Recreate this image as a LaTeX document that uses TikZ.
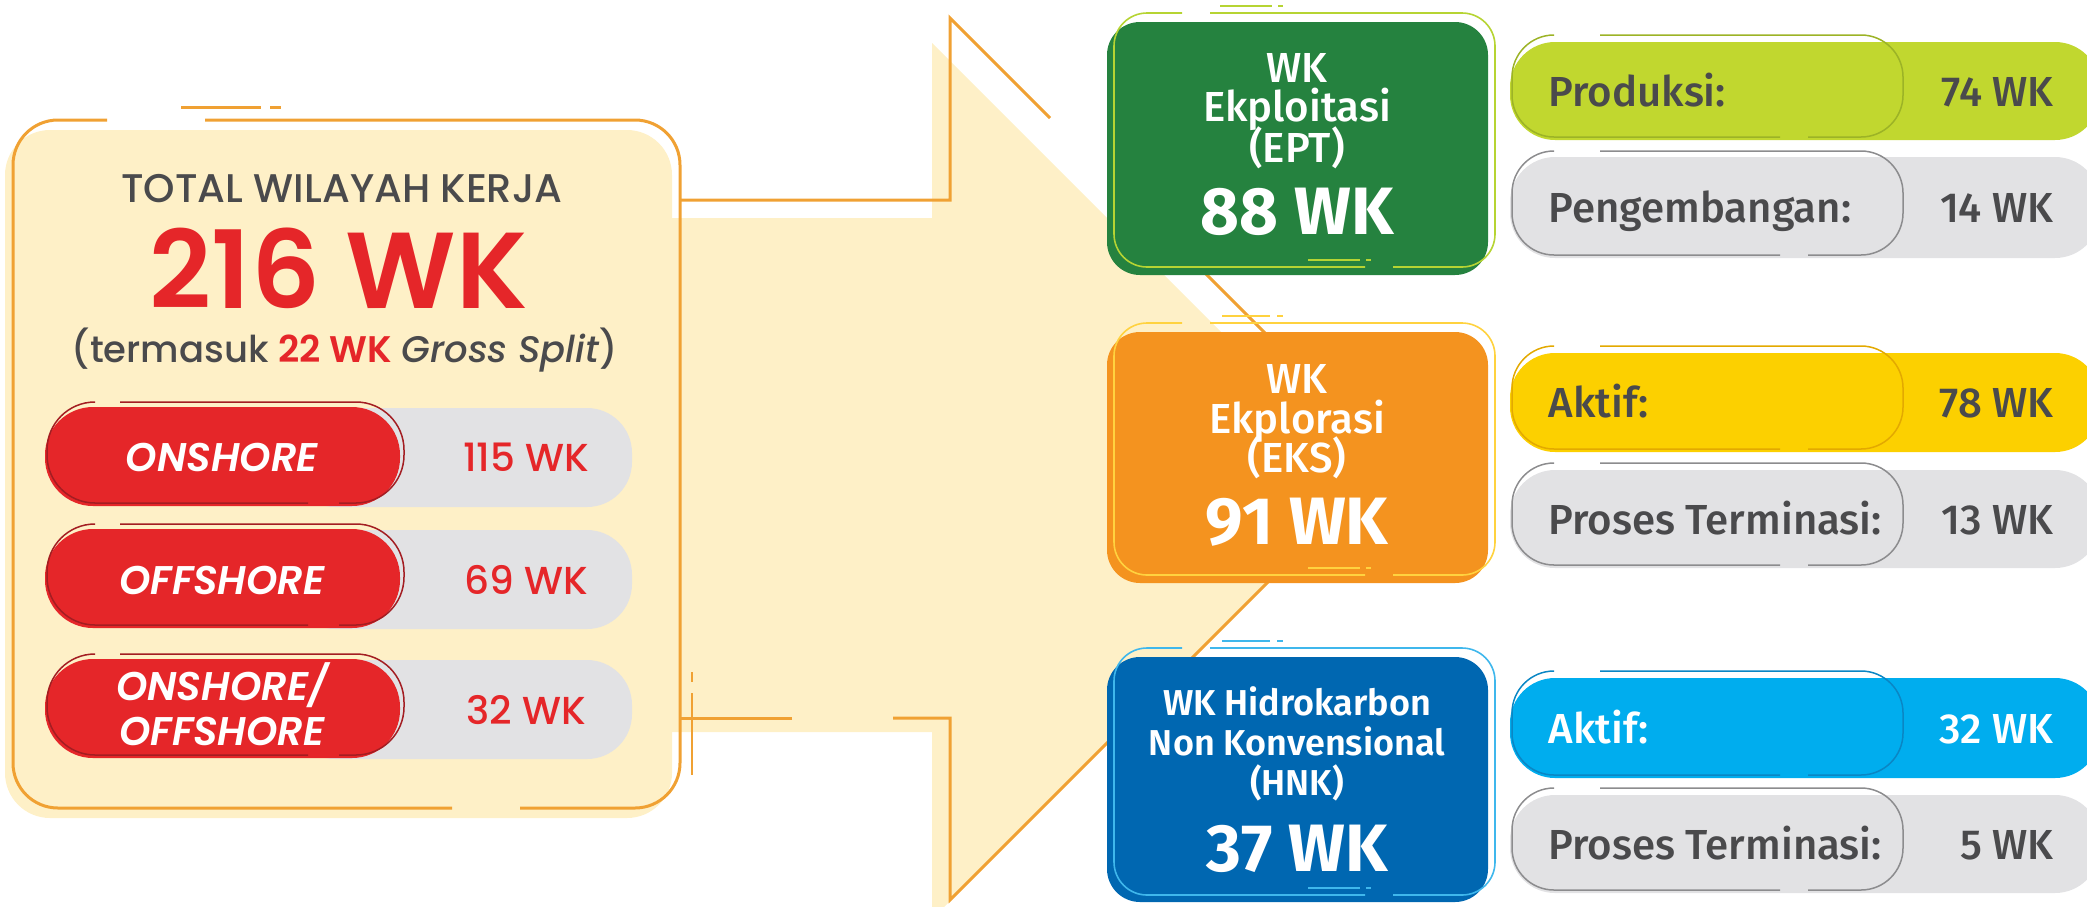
\documentclass[tikz,border=0pt]{standalone}
\usepackage{fontspec}
\setmainfont{Fira Sans Medium}[BoldFont={Fira Sans Bold}]
\newfontfamily\firasb{Fira Sans SemiBold}
\newfontfamily\pop{Poppins Medium}[BoldFont={Poppins SemiBold},ItalicFont={Poppins Medium Italic},BoldItalicFont={Poppins SemiBold Italic}]
\definecolor{cream}{HTML}{FEF0C7}
\definecolor{aorange}{HTML}{F0A133}
\definecolor{wkred}{HTML}{E52629}
\definecolor{dred}{HTML}{A31D22}
\definecolor{pgray}{HTML}{E2E2E4}
\definecolor{tgray}{HTML}{4A4A4C}
\definecolor{ggreen}{HTML}{25823F}
\definecolor{lgreen}{HTML}{B6D433}
\definecolor{borange}{HTML}{F4931F}
\definecolor{lyellow}{HTML}{FFD23F}
\definecolor{bblue}{HTML}{0067B1}
\definecolor{lblue}{HTML}{3FB7EC}
\definecolor{lime}{HTML}{C1D72F}
\definecolor{limed}{HTML}{9CB326}
\definecolor{yel}{HTML}{FCD000}
\definecolor{yeld}{HTML}{E3A900}
\definecolor{sky}{HTML}{00ADEE}
\definecolor{skyd}{HTML}{0A86C4}
\definecolor{grayd}{HTML}{8C8C8E}
% gapped rounded outline: style, x1,y1,x2,y2, top gap a,b, bottom gap a,b
\newcommand{\gapbox}[9]{%
  \draw[#1] (#7,#3) -- (#4,#3) -- (#4,#5) -- (#9,#5);
  \draw[#1] (#8,#5) -- (#2,#5) -- (#2,#3) -- (#6,#3);}
\tikzset{
  aline/.style={draw=aorange, line width=3pt},
  thinl/.style={line width=1.6pt},
  cbox/.style={rectangle, rounded corners=33pt, minimum width=381pt, inner sep=0pt},
  hdr/.style={anchor=base, text=tgray, inner sep=0pt, text height=28pt, text depth=0pt, font=\pop\fontsize{40}{44}\selectfont},
  bigred/.style={anchor=base, text=wkred, inner sep=0pt, text height=76pt, text depth=0pt, font=\pop\bfseries\fontsize{108}{114}\selectfont},
  subhdr/.style={anchor=base, text=tgray, inner sep=0pt, text height=28pt, text depth=8pt, font=\pop\fontsize{37}{42}\selectfont},
  rtxt/.style={anchor=base, text=white, font=\pop\bfseries\itshape\fontsize{40}{44}\selectfont},
  vtxt/.style={anchor=base, text=wkred, font=\pop\fontsize{39}{44}\selectfont},
  btxt/.style={anchor=base, text=white, font=\fontsize{42}{46}\selectfont},
  bbtxt/.style={anchor=base, text=white, font=\firasb\fontsize{36}{40}\selectfont},
  bnum/.style={anchor=base, text=white, font=\bfseries\fontsize{67}{72}\selectfont},
  plabel/.style={anchor=base west, text=tgray, font=\fontsize{42}{46}\selectfont},
  pval/.style={anchor=base east, text=tgray, font=\fontsize{42}{46}\selectfont},
}
\begin{document}
\begin{tikzpicture}[x=1pt,y=-1pt]
\useasboundingbox (0,0) rectangle (2087,906);
\clip (0,0) rectangle (2087,906);

% ---------- big arrow fill and left box fill
\fill[cream] (672,218) -- (932,218) -- (932,43) -- (1370,481) -- (932,919) -- (932,732) -- (672,732) -- cycle;
\fill[cream, rounded corners=45] (5,130) rectangle (672,818);

% ---------- arrow outline
\coordinate (sh1) at (680,200);
\coordinate (ah1) at (950,200);
\coordinate (ah2) at (950,18);
\coordinate (ah3) at (1050,118);
\coordinate (ah4) at (1205,273);
\coordinate (tip) at (1391,459);
\coordinate (ah5) at (950,900);
\coordinate (ah6) at (950,718);
\coordinate (sh2) at (893,718);
\coordinate (sh3) at (792,718);
\coordinate (sh4) at (680,718);
\draw[aline] (sh1) -- (ah1) -- (ah2) -- (ah3);
\draw[aline] (ah4) -- (tip) -- (ah5) -- (ah6) -- (sh2);
\draw[aline] (sh3) -- (sh4);
\draw[aline, line width=2pt] (692,672) -- (692,682) (692,693) -- (692,775);

% ---------- left box outline
\gapbox{aline, rounded corners=45}{13}{120}{680}{808}{107}{205}{452}{520}
\draw[aline] (181,107) -- (261,107) (270,107) -- (281,107);

% ---------- left box texts
\node[hdr] (title) at (342,202) {TOTAL WILAYAH KERJA};
\node[bigred] (total) at (339,308) {216 WK};
\node[subhdr] (gross) at (345,362) {(termasuk {\bfseries\color{wkred}22 WK} \textit{Gross Split})};

% ---------- rows
\foreach \t/\b in {407/506, 529/628, 659/758}{
  \fill[pgray, rounded corners=45] (290,\t+1) rectangle (632,\b+1);
  \fill[wkred, rounded corners=48] (45,\t) rectangle (400,\b);
  \gapbox{draw=dred, line width=1.5pt, rounded corners=48}{47}{\t-5}{404}{\b-3}{94}{120}{308}{339}
}
\node[rtxt] (on) at (222,471) {ONSHORE};
\node[vtxt] (onv) at (526,471) {115 WK};
\node[rtxt] (off) at (222,594) {OFFSHORE};
\node[vtxt] (offv) at (526,594) {69 WK};
\node[rtxt] (both1) at (222,700) {ONSHORE/};
\node[rtxt] (both2) at (222,745) {OFFSHORE};
\node[vtxt] (bothv) at (526,724) {32 WK};

% ---------- colored boxes
\node[cbox, fill=ggreen, minimum height=253pt] (ept) at (1297.5,148.5) {};
\gapbox{thinl, draw=lgreen, rounded corners=33}{1114}{13}{1495}{267}{1182}{1210}{1365}{1393}
\draw[thinl, draw=lgreen] (1220,6) -- (1272,6) (1278,6) -- (1283,6) (1308,260) -- (1360,260) (1366,260) -- (1371,260);
\node[btxt] (ept1) at (1297,82) {WK};
\node[btxt] (ept2) at (1297,121) {Ekploitasi};
\node[btxt] (ept3) at (1297,162) {(EPT)};
\node[bnum] (ept4) at (1297,234) {88 WK};

\node[cbox, fill=borange, minimum height=251pt] (eks) at (1297.5,457.5) {};
\gapbox{thinl, draw=lyellow, rounded corners=33}{1114}{323}{1495}{575}{1182}{1210}{1365}{1393}
\draw[thinl, draw=lyellow] (1222,316) -- (1270,316) (1277,316) -- (1283,316) (1308,568) -- (1360,568) (1366,568) -- (1371,568);
\node[btxt] (eks1) at (1297,393) {WK};
\node[btxt] (eks2) at (1297,433) {Ekplorasi};
\node[btxt] (eks3) at (1297,472) {(EKS)};
\node[bnum] (eks4) at (1297,544) {91 WK};

\node[cbox, fill=bblue, minimum height=245pt] (hnk) at (1297.5,779.5) {};
\gapbox{thinl, draw=lblue, rounded corners=33}{1114}{648}{1495}{895}{1182}{1210}{1365}{1393}
\draw[thinl, draw=lblue] (1222,641) -- (1270,641) (1277,641) -- (1283,641) (1308,888) -- (1360,888) (1366,888) -- (1371,888);
\node[bbtxt] (hnk1) at (1297,715) {WK Hidrokarbon};
\node[bbtxt] (hnk2) at (1297,755) {Non Konvensional};
\node[bbtxt] (hnk3) at (1297,795) {(HNK)};
\node[bnum] (hnk4) at (1297,871) {37 WK};

% ---------- right pills
\fill[lime, rounded corners=45] (1510,42) rectangle (2100,140);
\gapbox{draw=limed, line width=1.5pt, rounded corners=42}{1512}{35}{1903}{137}{1552}{1600}{1780}{1808}
\node[plabel] (p1) at (1545,106) {Produksi:};
\node[pval] (p1v) at (2057,106) {74 WK};

\fill[pgray, rounded corners=45] (1510,157) rectangle (2100,258);
\gapbox{draw=grayd, line width=1.5pt, rounded corners=42}{1512}{151}{1903}{255}{1552}{1600}{1780}{1808}
\node[plabel] (p2) at (1545,222) {Pengembangan:};
\node[pval] (p2v) at (2057,222) {14 WK};

\fill[yel, rounded corners=45] (1510,353) rectangle (2100,452);
\gapbox{draw=yeld, line width=1.5pt, rounded corners=42}{1512}{346}{1903}{449}{1552}{1600}{1780}{1808}
\node[plabel] (p3) at (1545,417) {Aktif:};
\node[pval] (p3v) at (2057,417) {78 WK};

\fill[pgray, rounded corners=45] (1510,470) rectangle (2100,568);
\gapbox{draw=grayd, line width=1.5pt, rounded corners=42}{1512}{463}{1903}{565}{1552}{1600}{1780}{1808}
\node[plabel] (p4) at (1545,534) {Proses Terminasi:};
\node[pval] (p4v) at (2057,534) {13 WK};

\fill[sky, rounded corners=45] (1510,678) rectangle (2100,778);
\gapbox{draw=skyd, line width=1.5pt, rounded corners=42}{1512}{671}{1903}{775}{1552}{1600}{1780}{1808}
\node[plabel, text=white] (p5) at (1545,743) {Aktif:};
\node[pval, text=white] (p5v) at (2057,743) {32 WK};

\fill[pgray, rounded corners=45] (1510,795) rectangle (2100,893);
\gapbox{draw=grayd, line width=1.5pt, rounded corners=42}{1512}{788}{1903}{890}{1552}{1600}{1780}{1808}
\node[plabel] (p6) at (1545,859) {Proses Terminasi:};
\node[pval] (p6v) at (2057,859) {5 WK};
\end{tikzpicture}
\end{document}
